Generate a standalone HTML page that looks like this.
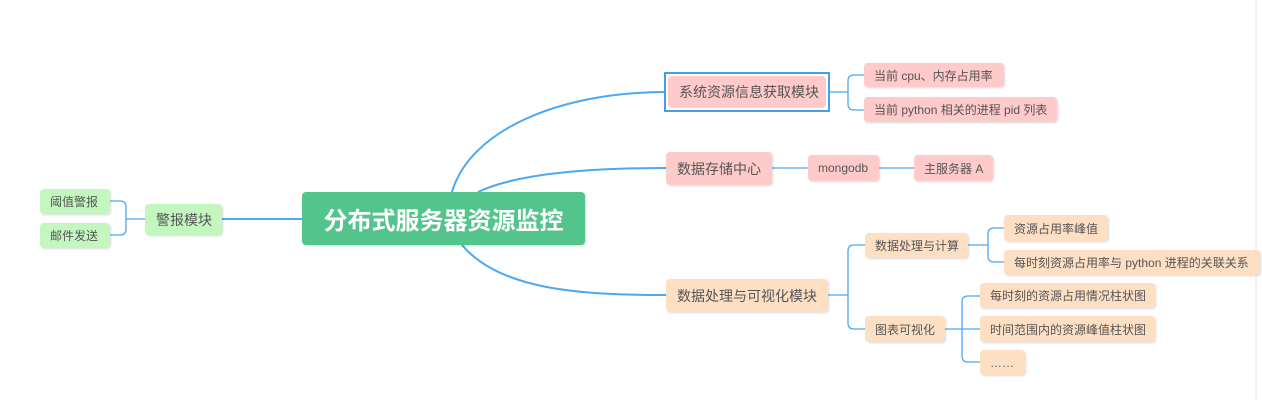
<!DOCTYPE html>
<html><head><meta charset="utf-8"><style>
body{margin:0;width:1262px;height:400px;background:#fff;position:relative;overflow:hidden;font-family:"Liberation Sans","Noto Sans CJK SC",sans-serif;}
.n{position:absolute;display:flex;align-items:center;justify-content:flex-start;box-sizing:border-box;padding-left:10px;border-radius:4px;color:#555;font-size:12px;box-shadow:1px 1px 2px rgba(0,0,0,0.15);white-space:nowrap;overflow:hidden;}
.b{font-size:14px;padding-left:11px}
.r{background:#fecaca}.o{background:#fde0c4}.g{background:#c4f7bf}
svg{position:absolute;left:0;top:0}
</style></head><body>
<svg width="1262" height="400" fill="none" stroke="#4aa8f5" stroke-width="2">
<path d="M452 192 C470 130 560 92 666 92"/>
<path d="M478 192 C520 172 600 168 666 168"/>
<path d="M462 245 C500 290 580 295 666 295"/>
<path d="M222 219 L302 219"/>
<g stroke-width="1.3">
<path d="M110 201 H120 Q126 201 126 207 V229 Q126 235 120 235 H110 M126 219 H145"/>
<path d="M828 92 H848 M864 75 H854 Q848 75 848 81 V104 Q848 110 854 110 H864"/>
<path d="M772 168 H808 M879 168 H914"/>
<path d="M828 295 H848 M865 245 H854 Q848 245 848 251 V323 Q848 329 854 329 H865"/>
<path d="M968 245 H988 M1004 228 H994 Q988 228 988 234 V256 Q988 262 994 262 H1004"/>
<path d="M945 329 H962 M980 296 H968 Q962 296 962 302 V356 Q962 362 968 362 H980 M962 329 H980"/>
</g>
<line x1="1256" y1="0" x2="1256" y2="400" stroke="#e6e6e6" stroke-width="1"/>
</svg>
<div class="n" style="left:302px;top:192px;width:283px;height:53px;background:#52c48c;color:#fff;font-size:24px;font-weight:bold;justify-content:center;padding:0">分布式服务器资源监控</div>
<div class="n g b" style="left:145px;top:204px;width:77px;height:31px">警报模块</div>
<div class="n g" style="left:40px;top:189px;width:70px;height:25px">阈值警报</div>
<div class="n g" style="left:40px;top:223px;width:70px;height:25px">邮件发送</div>
<div style="position:absolute;left:664px;top:72px;width:162px;height:36px;border:2px solid #4a9ee8"></div>
<div class="n r b" style="left:668px;top:76px;width:158px;height:32px;box-shadow:none">系统资源信息获取模块</div>
<div class="n r" style="left:864px;top:63px;width:140px;height:24px">当前 cpu、内存占用率</div>
<div class="n r" style="left:864px;top:97px;width:193px;height:25px">当前 python 相关的进程 pid 列表</div>
<div class="n r b" style="left:666px;top:152px;width:106px;height:33px">数据存储中心</div>
<div class="n r" style="left:808px;top:155px;width:71px;height:26px">mongodb</div>
<div class="n r" style="left:914px;top:155px;width:79px;height:26px">主服务器 A</div>
<div class="n o b" style="left:666px;top:279px;width:162px;height:33px">数据处理与可视化模块</div>
<div class="n o" style="left:865px;top:233px;width:103px;height:25px">数据处理与计算</div>
<div class="n o" style="left:1004px;top:215px;width:104px;height:26px">资源占用率峰值</div>
<div class="n o" style="left:1004px;top:250px;width:256px;height:25px">每时刻资源占用率与 python 进程的关联关系</div>
<div class="n o" style="left:865px;top:316px;width:80px;height:26px">图表可视化</div>
<div class="n o" style="left:980px;top:283px;width:175px;height:25px">每时刻的资源占用情况柱状图</div>
<div class="n o" style="left:980px;top:316px;width:175px;height:26px">时间范围内的资源峰值柱状图</div>
<div class="n o" style="left:980px;top:350px;width:45px;height:25px">……</div>
</body></html>
